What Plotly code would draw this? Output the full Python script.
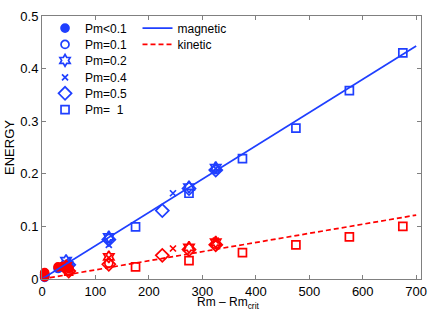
import plotly.graph_objects as go

BLUE = "#1f3fff"
RED = "#ff0000"

# Pm<0.1 (filled circles)
pm01lt_x = [5, 5, 5, 30, 40, 50]
pm01lt_mag = [0.003, 0.006, 0.009, 0.020, 0.022, 0.025]
pm01lt_kin = [0.004, 0.008, 0.012, 0.023, 0.024, 0.020]
# Pm=0.1 (open circles)
pm01_x = [50, 125, 325]
pm01_mag = [0.025, 0.077, 0.208]
pm01_kin = [0.016, 0.030, 0.066]
# Pm=0.2 (hexagram)
pm02_x = [45, 125, 275, 325]
pm02_mag = [0.035, 0.080, 0.175, 0.212]
pm02_kin = [0.025, 0.042, 0.060, 0.070]
# Pm=0.4 (x)
pm04_x = [45, 125, 245, 325]
pm04_mag = [0.030, 0.065, 0.163, 0.210]
pm04_kin = [0.020, 0.040, 0.058, 0.073]
# Pm=0.5 (open diamonds)
pm05_x = [50, 125, 225, 275, 325]
pm05_mag = [0.027, 0.075, 0.130, 0.172, 0.207]
pm05_kin = [0.015, 0.028, 0.045, 0.056, 0.065]
# Pm=1 (open squares)
pm1_x = [50, 175, 275, 375, 475, 575, 675]
pm1_mag = [0.025, 0.099, 0.163, 0.229, 0.287, 0.358, 0.430]
pm1_kin = [0.015, 0.023, 0.035, 0.050, 0.065, 0.080, 0.100]

# fit lines
fit_x = [0, 700]
fit_mag = [0.0, 0.443]
fit_kin = [0.0, 0.1215]

series = [
    ("Pm<0.1", pm01lt_x, pm01lt_mag, pm01lt_kin, "circle", 8),
    ("Pm=0.1", pm01_x, pm01_mag, pm01_kin, "circle-open", 8),
    ("Pm=0.2", pm02_x, pm02_mag, pm02_kin, "hexagram-open", 9),
    ("Pm=0.4", pm04_x, pm04_mag, pm04_kin, "x-thin-open", 6),
    ("Pm=0.5", pm05_x, pm05_mag, pm05_kin, "diamond-open", 10),
    ("Pm=  1", pm1_x, pm1_mag, pm1_kin, "square-open", 8),
]

marker_legends = ["legend", "legend3", "legend4", "legend5", "legend6", "legend7"]
row_y = [0.954, 0.892, 0.831, 0.767, 0.706, 0.644]

fig = go.Figure()
for (name, xs, mag, kin, sym, sz), lg in zip(series, marker_legends):
    fig.add_trace(go.Scatter(x=xs, y=mag, mode="markers", name=name,
                             marker=dict(symbol=sym, size=sz, color=BLUE,
                                         line=dict(color=BLUE, width=1.7)),
                             legend=lg, cliponaxis=False))
for name, xs, mag, kin, sym, sz in series:
    fig.add_trace(go.Scatter(x=xs, y=kin, mode="markers", name=name, showlegend=False,
                             marker=dict(symbol=sym, size=sz, color=RED,
                                         line=dict(color=RED, width=1.7)),
                             cliponaxis=False))

fig.add_trace(go.Scatter(x=fit_x, y=fit_mag, mode="lines", name="magnetic",
                         line=dict(color=BLUE, width=1.7), legend="legend2"))
fig.add_trace(go.Scatter(x=fit_x, y=fit_kin, mode="lines", name="kinetic",
                         line=dict(color=RED, width=1.7, dash="5px,3px"), legend="legend8"))

axis_common = dict(showgrid=False, zeroline=False, showline=True, linecolor="#808080",
                   linewidth=1, mirror="ticks", ticks="inside", ticklen=4,
                   tickcolor="#808080", tickfont=dict(family="Liberation Sans, Arial", size=13, color="black"))

legend_common = dict(xanchor="left", yanchor="middle", bgcolor="rgba(0,0,0,0)",
                     font=dict(size=12), tracegroupgap=0, itemwidth=30)

layout_legends = {}
for lg, yv in zip(marker_legends, row_y):
    layout_legends[lg] = dict(x=0.008, y=yv, **legend_common)
layout_legends["legend2"] = dict(x=0.252, y=row_y[0], **legend_common)
layout_legends["legend8"] = dict(x=0.252, y=row_y[1], **legend_common)

fig.update_layout(
    width=436, height=316,
    margin=dict(l=42, r=9, t=12, b=37),
    paper_bgcolor="white", plot_bgcolor="white",
    font=dict(family="Liberation Sans, Arial", size=13, color="black"),
    xaxis=dict(range=[0, 709], tickvals=[0, 100, 200, 300, 400, 500, 600, 700], **axis_common),
    yaxis=dict(range=[0, 0.5], tickvals=[0, 0.1, 0.2, 0.3, 0.4, 0.5],
               ticktext=["0", "0.1", "0.2", "0.3", "0.4", "0.5"],
               title=dict(text="ENERGY", standoff=2, font=dict(size=13)), **axis_common),
    annotations=[dict(text="Rm – Rm<sub>crit</sub>", xref="paper", yref="paper",
                      x=0.491, y=-0.055, xanchor="center", yanchor="top",
                      showarrow=False, font=dict(size=12))],
    **layout_legends,
)

fig.write_html("out.html", config={"displayModeBar": False},
               post_script="document.body.style.margin='0';document.body.style.overflow='hidden';")
